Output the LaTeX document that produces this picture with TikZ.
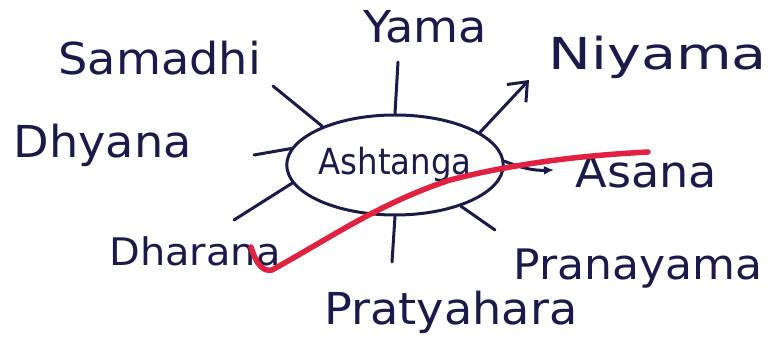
\documentclass[tikz,border=0pt]{standalone}
\usepackage{fontspec}
\newfontfamily\handfont[FakeStretch=1.05]{DejaVu Sans}
\newfontfamily\handwide[FakeStretch=1.3]{DejaVu Sans}
\newfontfamily\handnarrow[FakeStretch=0.9]{DejaVu Sans}
\usetikzlibrary{arrows.meta,shapes.geometric,positioning}
\definecolor{ink}{HTML}{1B1B4B}
\definecolor{redpen}{HTML}{E0213F}
\tikzset{
    hub/.style={draw=ink, ellipse, minimum width=186pt, minimum height=100pt, inner sep=0pt, text=ink, font=\handnarrow\fontsize{36}{36}\selectfont},
    limb/.style={text=ink, anchor=base west, inner sep=0pt, font=\handfont\fontsize{44}{44}\selectfont},
    spoke/.style={draw=ink, line cap=round},
    redmark/.style={draw=redpen, line width=5.5pt, line cap=round}}

\begin{document}
\begin{tikzpicture}[x=1pt,y=1pt,line width=3pt]
    \useasboundingbox (0,0) rectangle (771,358);
    \node[hub] (ash) at (395,193) {Ashtanga};
    \node[limb] (sam) at (57,283) {Samadhi};
    \node[limb] (yam) at (362,315) {Yama};
    \node[limb, font=\handwide\fontsize{44}{44}\selectfont] (niy) at (547,288) {Niyama};
    \node[limb] (dhy) at (12,200) {Dhyana};
    \node[limb] (asa) at (574,170) {Asana};
    \node[limb, font=\handfont\fontsize{38}{38}\selectfont] (dha) at (108,92) {Dharana};
    \node[limb, font=\handfont\fontsize{42}{42}\selectfont] (prn) at (512,78) {Pranayama};
    \node[limb] (prt) at (323,33) {Pratyahara};
    \coordinate (sam-end) at (273,272);
    \coordinate (yam-end) at (398,296);
    \coordinate (niy-end) at (529,278);
    \coordinate (dhy-end) at (254,203);
    \coordinate (asa-end) at (554,188);
    \coordinate (dha-end) at (234,138);
    \coordinate (prn-end) at (495,128);
    \coordinate (prt-end) at (392,96);
    \draw[spoke] (ash.152) -- (sam-end);
    \draw[spoke] (ash.90) -- (yam-end);
    \draw[spoke, -{Straight Barb[length=16pt,width=26pt]}] (ash.21) -- (niy-end);
    \draw[spoke] (ash.171) -- (dhy-end);
    \draw[spoke, -{Latex[length=10pt,width=9pt]}] (ash.2) to[bend right=12] (asa-end);
    \draw[spoke] (ash.190) -- (dha-end);
    \draw[spoke] (ash.328) -- (prn-end);
    \draw[spoke] (ash.270) -- (prt-end);
    \draw[redmark] (251,111) .. controls (256,95) and (262,86) .. (272,88)
        .. controls (330,120) and (380,155) .. (450,178)
        .. controls (520,196) and (590,203) .. (648,206);
\end{tikzpicture}
\end{document}
